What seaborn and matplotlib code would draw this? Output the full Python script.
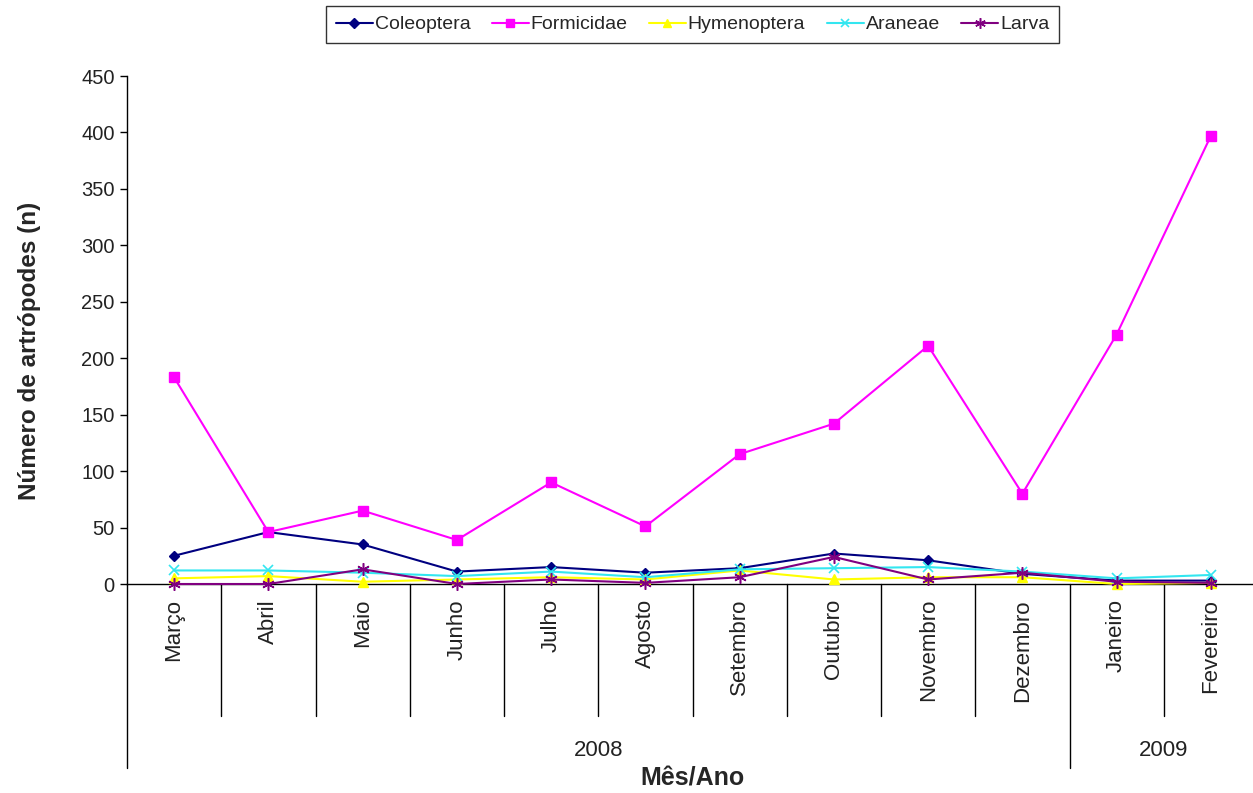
import numpy as np
import pandas as pd
import matplotlib
matplotlib.use("Agg")
import matplotlib.pyplot as plt
import matplotlib.transforms as mtransforms
import seaborn as sns

months = ["Março", "Abril", "Maio", "Junho", "Julho", "Agosto", "Setembro",
          "Outubro", "Novembro", "Dezembro", "Janeiro", "Fevereiro"]
years = ["2008", "2009"]
year_spans = [(0, 9), (10, 11)]

coleoptera = [25, 46, 35, 11, 15, 10, 14, 27, 21, 9, 3, 3]
formicidae = [183, 46, 65, 39, 90, 51, 115, 142, 211, 80, 221, 397]
hymenoptera = [5, 7, 2, 4, 6, 4, 12, 4, 6, 6, 0, 1]
araneae = [12, 12, 10, 7, 11, 6, 13, 14, 15, 11, 5, 8]
larva = [0, 0, 13, 0, 4, 1, 6, 24, 4, 10, 2, 1]

series = {
    "Coleoptera": coleoptera,
    "Formicidae": formicidae,
    "Hymenoptera": hymenoptera,
    "Araneae": araneae,
    "Larva": larva,
}
styles = {
    "Coleoptera": dict(color="#000080", marker="D", ms=5.5, mew=1.0),
    "Formicidae": dict(color="#FF00FF", marker="s", ms=7, mew=1.0),
    "Hymenoptera": dict(color="#FFFF00", marker="^", ms=6.5, mew=1.0),
    "Araneae": dict(color="#33E6F0", marker="x", ms=7, mew=1.2),
    "Larva": dict(color="#800080", marker=(6, 2, 0), ms=9, mew=1.1),
}

sns.set_theme(style="white")
plt.rcParams["font.family"] = ["Liberation Sans", "DejaVu Sans"]

fig = plt.figure(figsize=(12.53, 7.93), dpi=100)
W, H = 1253, 793
left_px, right_px, top_px, bottom_px = 127, 1258, 76, 584
ax = fig.add_axes([left_px / W, 1 - bottom_px / H,
                   (right_px - left_px) / W, (bottom_px - top_px) / H])

x = np.arange(len(months))
for name, vals in series.items():
    st = styles[name]
    df = pd.DataFrame({"x": x, "y": vals})
    sns.lineplot(data=df, x="x", y="y", ax=ax, color=st["color"],
                 marker=st["marker"], markersize=st["ms"],
                 markeredgecolor=st["color"], markeredgewidth=st["mew"],
                 linewidth=1.5, label=name, clip_on=False, zorder=3)

ax.set_xlim(-0.5, len(months) - 0.5)
ax.set_ylim(0, 450)
ax.set_yticks(np.arange(0, 451, 50))
ax.tick_params(axis="y", labelsize=14.5, length=5, width=1, color="black",
               direction="out", left=True, pad=4, labelcolor="#222222")
ax.set_xticks([])
ax.set_xlabel("")
ax.set_ylabel("Número de artrópodes (n)", fontsize=17.5, fontweight="bold")
ax.yaxis.set_label_coords(-86 / (right_px - left_px),
                          0.5 - 21 / (bottom_px - top_px))

for s in ["top", "right"]:
    ax.spines[s].set_visible(False)
for s in ["left", "bottom"]:
    ax.spines[s].set_color("black")
    ax.spines[s].set_linewidth(1.0)

# category axis below the plot: month labels, dividers and year groups
px = 1.0 / (bottom_px - top_px)  # axes fraction per pixel
trans = mtransforms.blended_transform_factory(ax.transData, ax.transAxes)
for i, m in enumerate(months):
    ax.text(i, -15 * px, m, rotation=90, ha="center", va="top",
            fontsize=16, color="#222222", transform=trans)
for b in np.arange(0.5, len(months) - 1, 1.0):
    depth = 184 if b == 9.5 else 132
    ax.plot([b, b], [0, -depth * px], color="black", lw=1.0,
            transform=trans, clip_on=False)
ax.plot([-0.5, -0.5], [0, -184 * px], color="black", lw=1.0,
        transform=trans, clip_on=False)
for yr, (a, b) in zip(years, year_spans):
    ax.text((a + b) / 2, -166 * px, yr, ha="center", va="center",
            fontsize=16, color="#222222", transform=trans)
ax.text(0.5, -195 * px, "Mês/Ano", ha="center", va="center", fontsize=18,
        fontweight="bold", transform=ax.transAxes)

leg = ax.legend(loc="upper center", bbox_to_anchor=(0.5, 1 + 70 * px),
                ncol=5, frameon=True, fancybox=False, fontsize=14,
                handlelength=1.9, handletextpad=0.1, columnspacing=1.1,
                borderpad=0.5, edgecolor="black", markerscale=0.85,
                borderaxespad=0)
leg.get_frame().set_linewidth(1.0)

fig.savefig("out.png", dpi=100)
